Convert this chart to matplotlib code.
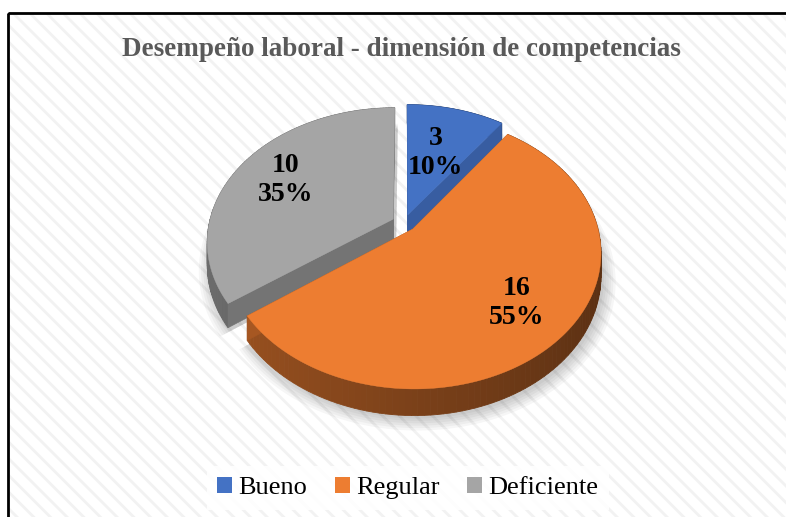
import numpy as np
import matplotlib
matplotlib.use("Agg")
import matplotlib.pyplot as plt
from matplotlib.patches import Polygon, Rectangle, Patch

# ---------- DATA ----------
categories = ["Bueno", "Regular", "Deficiente"]
counts = [3, 16, 10]
percents = [10, 55, 35]
colors = ["#4472C4", "#ED7D31", "#A5A5A5"]
title = "Desempeño laboral - dimensión de competencias"

# ---------- PIE GEOMETRY (pixels) ----------
W, H = 786, 517
CX, CY = 404, 223
RX, RY = 184, 131
K = 0.166          # perspective
DEPTH = 22
EXPLODE = 0.066
label_r = [0.55, 0.72, 0.70]

plt.rcParams["font.family"] = ["Liberation Serif", "DejaVu Serif"]
plt.rcParams["hatch.linewidth"] = 2.0


def project(x, y, d=0.0):
    w = 1 + K * y
    return CX + RX * x / w, CY - RY * y / w + DEPTH * d / w


def shade(color, f):
    rgb = np.array(matplotlib.colors.to_rgb(color))
    return tuple(np.clip(rgb * f, 0, 1))


fig = plt.figure(figsize=(W / 100, H / 100), dpi=100)
ax = fig.add_axes([0, 0, 1, 1])
ax.set_xlim(0, W)
ax.set_ylim(H, 0)
ax.axis("off")

# background with faint diagonal stripes and frame
ax.add_patch(Rectangle((8, 13), W, H, facecolor="white", edgecolor="#f2f2f2",
                       hatch="\\\\", lw=0, zorder=0))
ax.add_patch(Rectangle((8, 13), W, H, facecolor="none", edgecolor="black",
                       lw=2, zorder=1))

# slice angles (clockwise from 12 o'clock)
total = sum(percents)
starts, ends = [], []
a = 90.0
for p in percents:
    starts.append(a)
    a -= 360.0 * p / total
    ends.append(a)

slices = []
for i in range(len(categories)):
    a0, a1 = np.radians(starts[i]), np.radians(ends[i])
    m = (a0 + a1) / 2
    ox, oy = EXPLODE * np.cos(m), EXPLODE * np.sin(m)
    slices.append((oy + np.sin(m) * 0.5, i, a0, a1, m, ox, oy))

# soft shadow under each slice
for _, i, a0, a1, m, ox, oy in slices:
    th = np.linspace(a0, a1, 120)
    for s in range(6):
        g = 1.0 + 0.012 * s
        sx, sy = ox + g * np.cos(th), oy + g * np.sin(th)
        pts = [project(ox, oy, 1)] + [project(x, y, 1) for x, y in zip(sx, sy)]
        pts = [(px + 3, py + 3) for px, py in pts]
        ax.add_patch(Polygon(pts, closed=True, facecolor="black",
                             edgecolor="none", alpha=0.035, zorder=1.5))

# draw far slices first
for _, i, a0, a1, m, ox, oy in sorted(slices, reverse=True):
    col = colors[i]
    th = np.linspace(a0, a1, 120)
    xs, ys = ox + np.cos(th), oy + np.sin(th)

    # outer wall, shaded by angle
    for j in range(len(th) - 1):
        f = 0.52 - 0.14 * np.cos((th[j] + th[j + 1]) / 2)
        fc = shade(col, f)
        pts = [project(xs[j], ys[j], 0), project(xs[j + 1], ys[j + 1], 0),
               project(xs[j + 1], ys[j + 1], 1), project(xs[j], ys[j], 1)]
        ax.add_patch(Polygon(pts, closed=True, facecolor=fc, edgecolor=fc,
                             lw=0.6, zorder=2))

    # cut faces
    for ang in (a0, a1):
        ex, ey = ox + np.cos(ang), oy + np.sin(ang)
        pts = [project(ox, oy, 0), project(ex, ey, 0),
               project(ex, ey, 1), project(ox, oy, 1)]
        fc = shade(col, 0.82 if i == 0 else 0.7)
        ax.add_patch(Polygon(pts, closed=True, facecolor=fc, edgecolor=fc,
                             lw=0.4, zorder=2))

    # top surface
    top = [project(ox, oy, 0)] + [project(x, y, 0) for x, y in zip(xs, ys)]
    ax.add_patch(Polygon(top, closed=True, facecolor=col, edgecolor=col,
                         lw=0.3, zorder=2))

    # data label
    lx, ly = project(ox + label_r[i] * np.cos(m), oy + label_r[i] * np.sin(m), 0)
    ax.text(lx, ly, f"{counts[i]}\n{percents[i]}%", ha="center", va="center",
            fontsize=20, fontweight="bold", color="black", linespacing=1.2,
            zorder=5)

ax.text(401, 50, title, ha="center", va="center", fontsize=19.5,
        fontweight="bold", color="#595959", zorder=5)

handles = [Patch(facecolor=c, edgecolor="none") for c in colors]
leg = ax.legend(handles, categories, loc="center", ncol=3,
                bbox_to_anchor=(408 / W, 1 - 488 / H),
                bbox_transform=fig.transFigure,
                fontsize=19, handlelength=0.55, handleheight=0.55,
                handletextpad=0.25, columnspacing=1.05, frameon=True,
                fancybox=False, borderpad=0.4)
leg.get_frame().set_facecolor("white")
leg.get_frame().set_edgecolor("none")
leg.get_frame().set_alpha(0.85)

fig.savefig("out.png", dpi=100)
